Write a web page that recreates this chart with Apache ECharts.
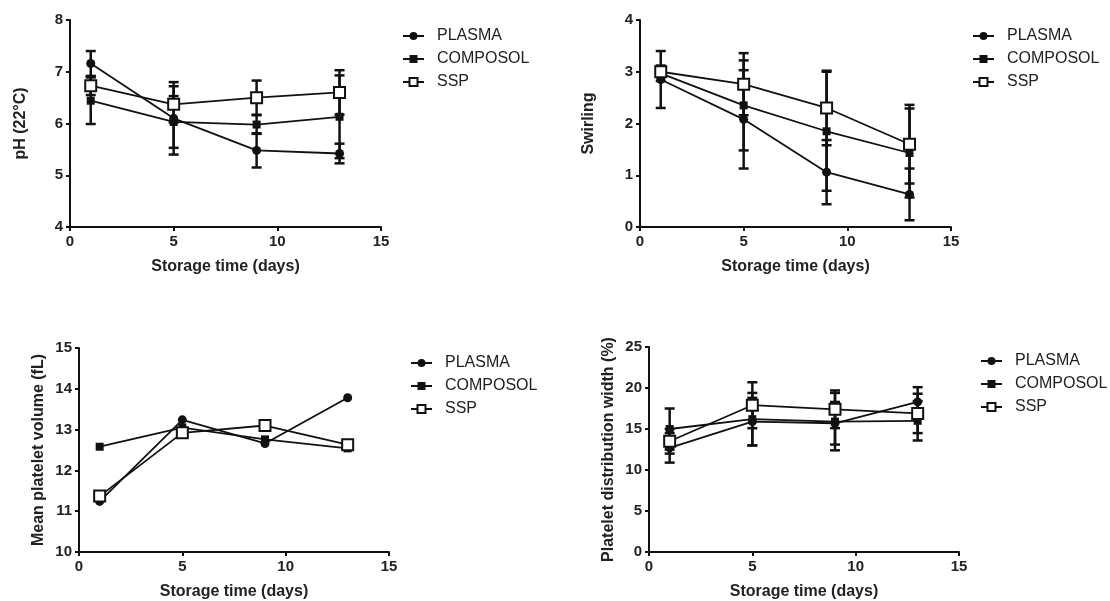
<!DOCTYPE html>
<html>
<head>
<meta charset="utf-8">
<script src="https://cdn.jsdelivr.net/npm/echarts@6/dist/echarts.min.js"></script>
<style>
html,body{margin:0;padding:0;background:#fff;}
#chart{width:1110px;height:601px;}
</style>
</head>
<body>
<div id="chart"></div>
<script>
var days = [1, 5, 9, 13];
var seriesNames = ['PLASMA', 'COMPOSOL', 'SSP'];

// pH (22°C)
var phPlasma = [7.16, 6.10, 5.48, 5.42];
var phComposol = [6.44, 6.03, 5.98, 6.13];
var phSsp = [6.73, 6.37, 6.50, 6.60];
var phPlasmaErr = [0.24, 0.70, 0.33, 0.19];
var phComposolErr = [0.45, 0.50, 0.18, 0.80];
var phSspErr = [0.18, 0.35, 0.33, 0.43];

// Swirling
var swPlasma = [2.85, 2.08, 1.06, 0.63];
var swComposol = [2.97, 2.35, 1.85, 1.43];
var swSsp = [3.00, 2.76, 2.30, 1.60];
var swPlasmaErr = [0.55, 0.95, 0.62, 0.50];
var swComposolErr = [0.15, 0.87, 1.15, 0.86];
var swSspErr = [0.10, 0.60, 0.72, 0.76];

// Mean platelet volume (fL)
var mpvPlasma = [11.24, 13.24, 12.66, 13.78];
var mpvComposol = [12.58, 13.05, 12.76, 12.54];
var mpvSsp = [11.37, 12.92, 13.10, 12.63];

// Platelet distribution width (%)
var pdwPlasma = [12.7, 15.9, 15.7, 18.3];
var pdwComposol = [15.0, 16.2, 15.9, 16.0];
var pdwSsp = [13.5, 17.9, 17.4, 16.9];
var pdwPlasmaErr = [1.8, 2.9, 2.6, 1.8];
var pdwComposolErr = [2.5, 3.2, 3.5, 2.4];
var pdwSspErr = [1.5, 2.8, 2.3, 2.4];

var INK = '#111';
var FONT = '"Liberation Sans", Arial, sans-serif';
var symbols = ['circle', 'rect', 'emptyRect'];
var symbolSizes = [9, 8, 11];

var chart = echarts.init(document.getElementById('chart'));

function pairs(vals) {
  return days.map(function (d, i) { return [d, vals[i]]; });
}
function errData(vals, errs) {
  return days.map(function (d, i) { return [d, vals[i] - errs[i], vals[i] + errs[i]]; });
}
function renderErr(params, api) {
  var x = api.value(0);
  var lo = api.coord([x, api.value(1)]);
  var hi = api.coord([x, api.value(2)]);
  var w = 5;
  var st = { stroke: INK, lineWidth: 2.5 };
  return {
    type: 'group',
    children: [
      { type: 'line', shape: { x1: lo[0], y1: lo[1], x2: hi[0], y2: hi[1] }, style: st },
      { type: 'line', shape: { x1: lo[0] - w, y1: lo[1], x2: lo[0] + w, y2: lo[1] }, style: st },
      { type: 'line', shape: { x1: hi[0] - w, y1: hi[1], x2: hi[0] + w, y2: hi[1] }, style: st }
    ]
  };
}

var grids = [
  { left: 70, top: 20, width: 311, height: 207 },
  { left: 640, top: 20, width: 311, height: 207 },
  { left: 79, top: 348, width: 310, height: 205 },
  { left: 649, top: 347, width: 310, height: 206 }
];
var yCfg = [
  { min: 4, max: 8, interval: 1, name: 'pH (22°C)', gap: 41 },
  { min: 0, max: 4, interval: 1, name: 'Swirling', gap: 43 },
  { min: 10, max: 15, interval: 1, name: 'Mean platelet volume (fL)', gap: 32 },
  { min: 0, max: 25, interval: 5, name: 'Platelet distribution width (%)', gap: 32 }
];
var legendPos = [
  { left: 397, top: 23 },
  { left: 967, top: 23 },
  { left: 405, top: 350 },
  { left: 975, top: 348 }
];

var axisLineStyle = { show: true, lineStyle: { color: INK, width: 2 } };
var axisTickStyle = { show: true, inside: false, length: 4, lineStyle: { color: INK, width: 2 } };
var labelStyle = { color: '#222', fontSize: 15, fontWeight: 'bold', fontFamily: FONT };
var nameStyle = { color: '#222', fontSize: 16, fontWeight: 'bold', fontFamily: FONT };

var xAxes = grids.map(function (g, i) {
  return {
    type: 'value', gridIndex: i, min: 0, max: 15, interval: 5,
    name: 'Storage time (days)', nameLocation: 'middle', nameGap: 32, nameTextStyle: nameStyle,
    axisLine: axisLineStyle, axisTick: axisTickStyle,
    axisLabel: Object.assign({ margin: 7 }, labelStyle),
    splitLine: { show: false }
  };
});
var yAxes = yCfg.map(function (c, i) {
  return {
    type: 'value', gridIndex: i, min: c.min, max: c.max, interval: c.interval,
    name: c.name, nameLocation: 'middle', nameGap: c.gap, nameTextStyle: nameStyle,
    axisLine: axisLineStyle, axisTick: axisTickStyle,
    axisLabel: Object.assign({ margin: 7 }, labelStyle),
    splitLine: { show: false }
  };
});

var panels = [
  { vals: [phPlasma, phComposol, phSsp], errs: [phPlasmaErr, phComposolErr, phSspErr] },
  { vals: [swPlasma, swComposol, swSsp], errs: [swPlasmaErr, swComposolErr, swSspErr] },
  { vals: [mpvPlasma, mpvComposol, mpvSsp], errs: null },
  { vals: [pdwPlasma, pdwComposol, pdwSsp], errs: [pdwPlasmaErr, pdwComposolErr, pdwSspErr] }
];

var series = [];
panels.forEach(function (p, gi) {
  if (p.errs) {
    p.vals.forEach(function (v, si) {
      series.push({
        type: 'custom', name: 'err' + gi + '_' + si,
        xAxisIndex: gi, yAxisIndex: gi,
        renderItem: renderErr,
        encode: { x: 0, y: [1, 2] },
        data: errData(v, p.errs[si]),
        z: 1, silent: true
      });
    });
  }
  p.vals.forEach(function (v, si) {
    series.push({
      type: 'line', name: seriesNames[si],
      xAxisIndex: gi, yAxisIndex: gi,
      data: pairs(v),
      symbol: symbols[si], symbolSize: symbolSizes[si], showAllSymbol: true,
      lineStyle: { color: INK, width: 1.8 },
      itemStyle: { color: INK, borderColor: INK, borderWidth: si === 2 ? 2 : 0 },
      z: 3, animation: false
    });
  });
});

var legends = legendPos.map(function (lp) {
  return {
    orient: 'vertical', left: lp.left, top: lp.top,
    data: seriesNames, itemWidth: 21, itemHeight: 10, itemGap: 7,
    textStyle: { color: '#222', fontSize: 16, fontFamily: FONT, padding: [0, 0, 0, 8] },
    selectedMode: false
  };
});

chart.setOption({
  backgroundColor: '#fff',
  animation: false,
  grid: grids,
  xAxis: xAxes,
  yAxis: yAxes,
  legend: legends,
  series: series
});
</script>
</body>
</html>
